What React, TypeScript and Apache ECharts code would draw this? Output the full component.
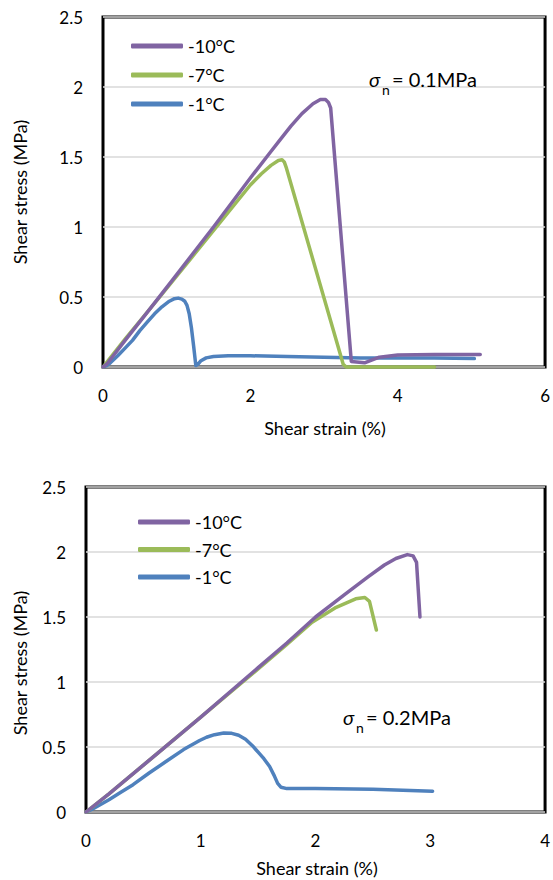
import React, { useEffect, useRef } from "react";
import * as echarts from "echarts";

// ---- Data (shear strain %, shear stress MPa) ----
const seriesNames = ["-10°C", "-7°C", "-1°C"];
const seriesColors = ["#8064A2", "#9BBB59", "#4F81BD"];

// sigma_n = 0.1 MPa
const top10: number[][] = [
  [0, 0], [0.05, 0.02], [0.3, 0.19], [0.6, 0.39], [1, 0.66], [1.5, 1.0], [2, 1.35],
  [2.25, 1.52], [2.4, 1.62], [2.55, 1.72], [2.7, 1.81], [2.85, 1.88], [2.95, 1.91],
  [3.02, 1.91], [3.06, 1.89], [3.09, 1.85], [3.37, 0.04], [3.55, 0.03], [3.75, 0.07],
  [4.0, 0.085], [4.5, 0.09], [5.12, 0.09],
];
const top7: number[][] = [
  [0, 0], [0.3, 0.2], [0.77, 0.5], [1.2, 0.78], [1.6, 1.04], [2, 1.3], [2.15, 1.38],
  [2.28, 1.44], [2.38, 1.475], [2.43, 1.48], [2.46, 1.465], [2.49, 1.42], [3.26, 0.02],
  [3.3, 0.0], [4.5, 0.0],
];
const top1: number[][] = [
  [0, 0], [0.05, 0.01], [0.1, 0.03], [0.2, 0.08], [0.3, 0.135], [0.4, 0.19], [0.5, 0.26],
  [0.6, 0.32], [0.7, 0.38], [0.8, 0.43], [0.9, 0.47], [0.97, 0.488], [1.02, 0.492],
  [1.07, 0.485], [1.11, 0.47], [1.14, 0.44], [1.17, 0.38], [1.2, 0.28], [1.23, 0.15],
  [1.26, 0.01], [1.29, 0.02], [1.33, 0.045], [1.4, 0.065], [1.5, 0.075], [1.7, 0.08],
  [2, 0.08], [2.5, 0.075], [3, 0.07], [3.5, 0.065], [4, 0.065], [4.5, 0.065], [5.04, 0.06],
];

// sigma_n = 0.2 MPa
const bot10: number[][] = [
  [0, 0], [0.2, 0.14], [0.5, 0.36], [1, 0.73], [1.5, 1.11], [1.75, 1.3], [2, 1.5],
  [2.25, 1.67], [2.46, 1.81], [2.6, 1.9], [2.7, 1.95], [2.8, 1.98], [2.85, 1.97],
  [2.88, 1.92], [2.91, 1.5],
];
const bot7: number[][] = [
  [0, 0], [0.2, 0.14], [0.5, 0.36], [1, 0.73], [1.5, 1.1], [1.75, 1.29], [1.97, 1.46],
  [2.17, 1.57], [2.35, 1.64], [2.43, 1.65], [2.47, 1.62], [2.53, 1.4],
];
const bot1: number[][] = [
  [0, 0], [0.05, 0.02], [0.1, 0.045], [0.2, 0.095], [0.3, 0.15], [0.41, 0.21], [0.55, 0.3],
  [0.7, 0.39], [0.85, 0.48], [0.99, 0.55], [1.05, 0.575], [1.12, 0.595], [1.2, 0.607],
  [1.27, 0.605], [1.33, 0.59], [1.39, 0.56], [1.45, 0.51], [1.5, 0.46], [1.55, 0.41],
  [1.6, 0.35], [1.64, 0.28], [1.67, 0.22], [1.7, 0.19], [1.75, 0.18], [2, 0.18],
  [2.5, 0.175], [3.02, 0.16],
];

const topXMax = 6;
const topXInterval = 2;
const botXMax = 4;
const botXInterval = 1;
const yMax = 2.5;
const yInterval = 0.5;

const FONT = "Lato, 'Open Sans', sans-serif";
const TXT = "#000";

export default function App() {
  const ref = useRef<HTMLDivElement>(null);

  useEffect(() => {
    if (!ref.current) return;
    const chart = echarts.init(ref.current, undefined, { renderer: "svg" });

    const gridBase = {
      show: true,
      borderColor: "#000",
      borderWidth: 3,
      backgroundColor: "#fff",
    };
    const xAxisBase = (gridIndex: number, max: number, interval: number) => ({
      gridIndex,
      type: "value",
      min: 0,
      max,
      interval,
      axisLine: { show: false },
      axisTick: { show: false },
      splitLine: { show: false },
      axisLabel: { margin: 20, fontSize: 17, fontFamily: FONT, color: TXT },
    });
    const yAxisBase = (gridIndex: number) => ({
      gridIndex,
      type: "value",
      min: 0,
      max: yMax,
      interval: yInterval,
      axisLine: { show: false },
      axisTick: { show: false },
      splitLine: { show: true, lineStyle: { color: "#d9d9d9", width: 1.5 } },
      axisLabel: { margin: 20, fontSize: 17, fontFamily: FONT, color: TXT },
    });

    const mkSeries = (data: number[][], i: number, gi: number) => ({
      type: "line",
      name: seriesNames[i],
      xAxisIndex: gi,
      yAxisIndex: gi,
      data,
      symbol: "none",
      clip: false,
      smooth: false,
      lineStyle: { color: seriesColors[i], width: 3.5, cap: "round", join: "round" },
      itemStyle: { color: seriesColors[i] },
      z: 5 - i,
    });

    const legendBase = (left: number, top: number, gap: number) => ({
      data: seriesNames.map((n) => ({ name: n, icon: "roundRect" })),
      orient: "vertical",
      left,
      top,
      itemWidth: 52,
      itemHeight: 5,
      itemGap: gap,
      selectedMode: false,
      textStyle: { fontSize: 18, fontFamily: FONT, color: TXT },
    });

    const txt = (text: string, x: number, y: number, extra: any = {}) => ({
      type: "text",
      x,
      y,
      ...(extra.rotation !== undefined ? { rotation: extra.rotation } : {}),
      style: {
        text,
        fontSize: extra.fontSize ?? 18,
        fontFamily: FONT,
        fontStyle: extra.fontStyle ?? "normal",
        fill: TXT,
        align: extra.align ?? "center",
        textAlign: extra.align ?? "center",
        verticalAlign: "middle",
        textVerticalAlign: "middle",
      },
      z: 100,
    });

    chart.setOption({
      animation: false,
      backgroundColor: "#fff",
      grid: [
        { ...gridBase, left: 103, top: 17, width: 445, height: 350 },
        { ...gridBase, left: 86, top: 487, width: 462, height: 325 },
      ],
      xAxis: [xAxisBase(0, topXMax, topXInterval), xAxisBase(1, botXMax, botXInterval)],
      yAxis: [yAxisBase(0), yAxisBase(1)],
      legend: [legendBase(126, 32, 11), legendBase(133, 508, 9.5)],
      series: [
        mkSeries(top10, 0, 0),
        mkSeries(top7, 1, 0),
        mkSeries(top1, 2, 0),
        mkSeries(bot10, 0, 1),
        mkSeries(bot7, 1, 1),
        mkSeries(bot1, 2, 1),
      ],
      graphic: [
        txt("Shear stress (MPa)", 20, 192, { rotation: Math.PI / 2 }),
        txt("Shear strain (%)", 325, 428),
        txt("Shear stress (MPa)", 20, 663, { rotation: Math.PI / 2 }),
        txt("Shear strain (%)", 317, 868),
        // sigma_n = 0.1MPa
        txt("σ", 369, 79, { align: "left", fontStyle: "italic", fontSize: 20 }),
        txt("n", 382, 89, { align: "left", fontSize: 14 }),
        txt("= 0.1MPa", 392, 79, { align: "left", fontSize: 20 }),
        // sigma_n = 0.2MPa
        txt("σ", 343, 717, { align: "left", fontStyle: "italic", fontSize: 20 }),
        txt("n", 356, 727, { align: "left", fontSize: 14 }),
        txt("= 0.2MPa", 366, 717, { align: "left", fontSize: 20 }),
      ],
    });

    return () => chart.dispose();
  }, []);

  return (
    <div
      ref={ref}
      style={{ position: "absolute", left: 0, top: 0, width: 553, height: 880, background: "#fff" }}
    />
  );
}
